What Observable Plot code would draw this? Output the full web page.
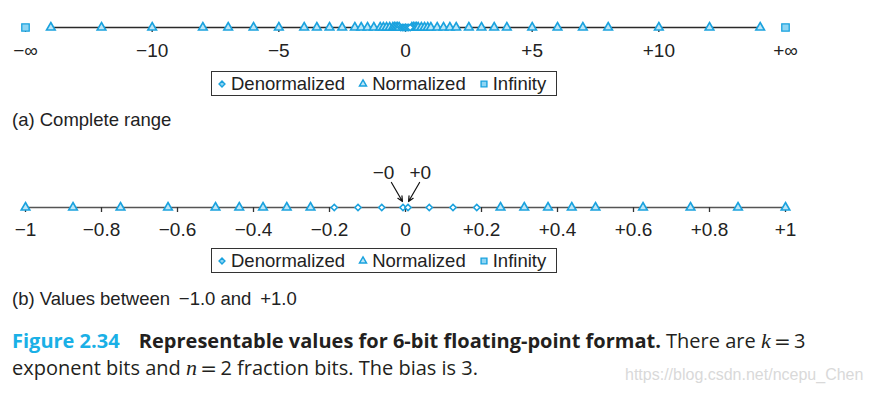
<!DOCTYPE html>
<html>
<head>
<meta charset="utf-8">
<script src="https://cdn.jsdelivr.net/npm/d3@7"></script>
<script src="https://cdn.jsdelivr.net/npm/@observablehq/plot@0.6"></script>
<style>
  html, body { margin: 0; padding: 0; background: #fff; }
  #page { position: relative; width: 871px; height: 394px; overflow: hidden; font-family: "Liberation Sans", Arial, sans-serif; color: #222; }
  .legend { position: absolute; left: 211px; width: 344px; height: 23px; border: 1.5px solid #333; box-sizing: content-box;
            display: flex; align-items: center; font-size: 18.5px; line-height: 23px; white-space: nowrap; }
  .legend .item { display: flex; align-items: center; }
  .legend svg { margin: 0 4px 0 13px; }
  .legend .item:first-child svg { margin-left: 5px; }
  .sub { position: absolute; left: 12px; font-size: 18.5px; line-height: 20px; white-space: nowrap; }
  .cap { position: absolute; left: 12px; font-family: "Open Sans", Lato, sans-serif; font-size: 20px; line-height: 27px; color: #231f20; white-space: nowrap; }
  .cap .fig { color: #1ab0e6; font-weight: bold; margin-right: 14px; }
  .cap b { font-weight: bold; }
  .cap i { font-family: "Liberation Serif", "Times New Roman", serif; font-style: italic; font-size: 22px; }
  .cap .eq { font-family: "DejaVu Sans", sans-serif; font-size: 20px; }
  .wm { position: absolute; left: 625px; font-family: "Liberation Sans", Arial, sans-serif; font-size: 16px; color: #d9d9d9; white-space: nowrap; }
</style>
</head>
<body>
<div id="page"></div>
<script>
// ---- data (6-bit format: k = 3 exponent bits, n = 2 fraction bits, bias 3) ----
const denormPositive = [0.0625, 0.125, 0.1875];
const normPositive = [0.25, 0.3125, 0.375, 0.4375, 0.5, 0.625, 0.75, 0.875,
                      1, 1.25, 1.5, 1.75, 2, 2.5, 3, 3.5, 4, 5, 6, 7, 8, 10, 12, 14];
const infinityPlacement = [-15, 15];           // where −∞ / +∞ are drawn on axis (a)

const ticksA = [-15, -10, -5, 0, 5, 10, 15];
const tickLabelsA = ["\u2212\u221E", "\u221210", "\u22125", "0", "+5", "+10", "+\u221E"];
const tickMarksA = [-15, -10, -5, 0, 5, 10];

const ticksB = [-1, -0.8, -0.6, -0.4, -0.2, 0, 0.2, 0.4, 0.6, 0.8, 1];
const tickLabelsB = ["\u22121", "\u22120.8", "\u22120.6", "\u22120.4", "\u22120.2", "0",
                     "+0.2", "+0.4", "+0.6", "+0.8", "+1"];

const legendNames = ["Denormalized", "Normalized", "Infinity"];
const legendSymbols = ["diamond2", "triangle", "square"];

// ---- derived tables ----
const denormAll = [...denormPositive.map(v => -v).reverse(), -0, 0, ...denormPositive];
const normAll = [...normPositive.map(v => -v).reverse(), ...normPositive];
const normB = normAll.filter(v => Math.abs(v) <= 1);
const denormBNonZero = denormAll.filter(v => v !== 0);
const zeros = [{v: -0, label: "\u22120", side: -1}, {v: 0, label: "+0", side: 1}];

const STROKE = "#1aa2de", FILL = "#bde6f7", SQFILL = "#8fd5f3";
const fontStyle = {fontFamily: '"Liberation Sans", Arial, sans-serif', fontSize: "19px", color: "#222", overflow: "visible", background: "transparent"};

const page = document.getElementById("page");

// ---- chart (a) ----
const chartA = Plot.plot({
  width: 871, height: 64,
  marginLeft: 25, marginRight: 86, marginTop: 5, marginBottom: 37,
  x: {domain: [-15, 15], label: null},
  y: {domain: [0, 1], axis: null},
  style: fontStyle,
  marks: [
    Plot.ruleY([0], {x1: normAll[0], x2: normAll[normAll.length - 1], stroke: "#2a2a2a", strokeWidth: 1.5}),
    Plot.axisX({ticks: tickMarksA, tickSize: 5, tickFormat: () => "", label: null, stroke: "#2a2a2a", strokeWidth: 1.3}),
    Plot.axisX({ticks: ticksA, tickSize: 0, tickPadding: 16, label: null, fill: "#222",
                tickFormat: d => tickLabelsA[ticksA.indexOf(d)]}),
    Plot.dot(normAll, {x: d => d, y: 0, symbol: "triangle", r: 3.2, stroke: STROKE, fill: FILL, strokeWidth: 1.6}),
    Plot.dot(denormAll, {x: d => d, y: 0, symbol: "diamond2", r: 2.8, stroke: STROKE, fill: "#fff", strokeWidth: 1.5}),
    Plot.dot(infinityPlacement, {x: d => d, y: 0, symbol: "square", r: 4.2, stroke: STROKE, fill: SQFILL, strokeWidth: 1.3})
  ]
});
chartA.style.position = "absolute"; chartA.style.left = "0px"; chartA.style.top = "0px";
page.appendChild(chartA);

// ---- chart (b) ----
const chartB = Plot.plot({
  width: 871, height: 84,
  marginLeft: 25, marginRight: 86, marginTop: 2, marginBottom: 32,
  x: {domain: [-1, 1], label: null},
  y: {domain: [0, 1], axis: null},
  style: fontStyle,
  marks: [
    Plot.ruleY([0], {x1: -1, x2: 1, stroke: "#555", strokeWidth: 1.5}),
    Plot.axisX({ticks: ticksB, tickSize: 5, tickFormat: () => "", label: null, stroke: "#333", strokeWidth: 1.3}),
    Plot.axisX({ticks: ticksB, tickSize: 0, tickPadding: 15, label: null, fill: "#222",
                tickFormat: d => tickLabelsB[ticksB.indexOf(d)]}),
    Plot.dot(normB, {x: d => d, y: 0, symbol: "triangle", r: 3.2, stroke: STROKE, fill: FILL, strokeWidth: 1.6}),
    Plot.dot(denormBNonZero, {x: d => d, y: 0, symbol: "diamond2", r: 2.8, stroke: STROKE, fill: "#fff", strokeWidth: 1.5}),
    Plot.dot(zeros.filter(z => z.side < 0), {x: "v", y: 0, dx: -2.5, symbol: "diamond2", r: 2.8, stroke: STROKE, fill: "#fff", strokeWidth: 1.5}),
    Plot.dot(zeros.filter(z => z.side > 0), {x: "v", y: 0, dx: 2.5, symbol: "diamond2", r: 2.8, stroke: STROKE, fill: "#fff", strokeWidth: 1.5}),
    Plot.arrow(zeros, {x1: d => d.side * 0.037, y1: 0.5, x2: d => d.side * 0.008, y2: 0.12,
                       stroke: "#111", strokeWidth: 1.2, headLength: 7, headAngle: 50}),
    Plot.text(zeros, {x: d => d.side < 0 ? -0.058 : 0.039, y: 0.7, text: "label", fontSize: 19, fill: "#222"})
  ]
});
chartB.style.position = "absolute"; chartB.style.left = "0px"; chartB.style.top = "155px";
page.appendChild(chartB);

// ---- legends ----
function makeLegend(top) {
  const box = document.createElement("div");
  box.className = "legend";
  box.style.top = top + "px";
  legendNames.forEach((name, i) => {
    const item = document.createElement("div");
    item.className = "item";
    const s = legendSymbols[i];
    const sym = s === "diamond2" ? d3.symbolDiamond2 : s === "triangle" ? d3.symbolTriangle : d3.symbolSquare;
    const size = s === "diamond2" ? 22 : s === "triangle" ? 22 : 34;
    const fill = s === "square" ? SQFILL : s === "triangle" ? FILL : "#8fd5f3";
    const svg = d3.create("svg").attr("width", 10).attr("height", 12).attr("viewBox", "-5 -6 10 12");
    svg.append("path").attr("d", d3.symbol(sym, size)()).attr("fill", fill).attr("stroke", STROKE).attr("stroke-width", 1.4);
    item.appendChild(svg.node());
    const t = document.createElement("span");
    t.textContent = name;
    item.appendChild(t);
    box.appendChild(item);
  });
  page.appendChild(box);
}
makeLegend(71);
makeLegend(248);

// ---- captions ----
function addDiv(cls, top, html) {
  const d = document.createElement("div");
  d.className = cls; d.style.top = top + "px"; d.innerHTML = html;
  page.appendChild(d);
}
addDiv("sub", 110, "(a) Complete range");
addDiv("sub", 289, "(b) Values between \u2009\u22121.0 and \u2009+1.0");
addDiv("cap", 327, '<span class="fig">Figure 2.34</span> <b>Representable values for 6-bit floating-point format.</b> There are <i>k</i>\u2009<span class="eq">=</span>\u20093');
addDiv("cap", 354, 'exponent bits and <i>n</i>\u2009<span class="eq">=</span>\u20092 fraction bits. The bias is 3.');
addDiv("wm", 366, "https://blog.csdn.net/ncepu_Chen");
</script>
</body>
</html>
